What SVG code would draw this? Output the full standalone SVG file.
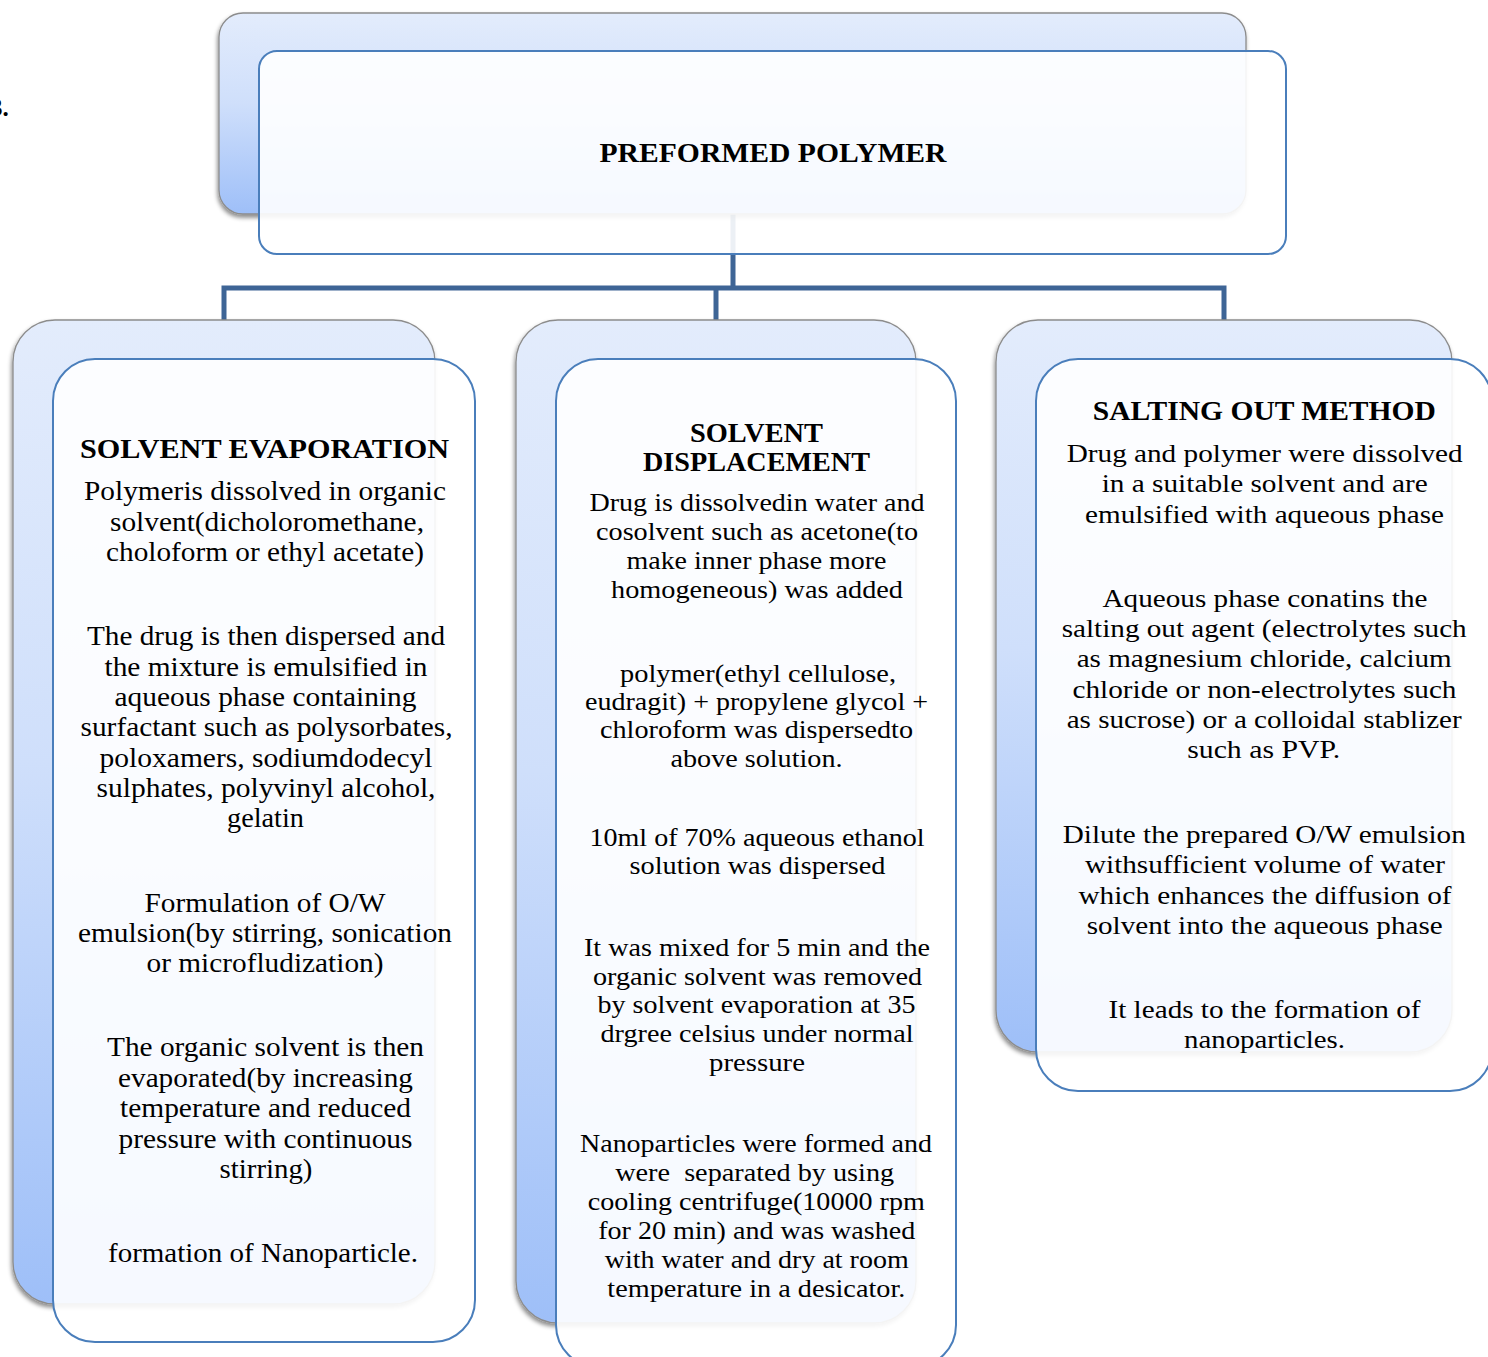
<svg xmlns="http://www.w3.org/2000/svg" width="1488" height="1357" viewBox="0 0 1488 1357">
<defs>
<linearGradient id="bg" x1="0" y1="0" x2="0" y2="1">
<stop offset="0" stop-color="#e3ecfc"/>
<stop offset="0.45" stop-color="#cfdffb"/>
<stop offset="1" stop-color="#9ebff8"/>
</linearGradient>
<filter id="sh" x="-5%" y="-5%" width="110%" height="110%">
<feDropShadow dx="-1" dy="3" stdDeviation="2" flood-color="#000" flood-opacity="0.45"/>
</filter>
<style>
.back{fill:url(#bg);stroke:#8c8c8c;stroke-width:1.3;filter:url(#sh)}
.front{fill:#ffffff;fill-opacity:0.9;stroke:#4a7ebb;stroke-width:2}
.conn{fill:none;stroke:#3e6596;stroke-width:5;stroke-linejoin:miter}
text{font-family:"Liberation Serif","Times New Roman",serif;fill:#000;text-anchor:middle}
.t{font-weight:bold;font-size:28px}
.b{font-size:27px}
.m{font-size:26px}
</style>
</defs>
<rect width="1488" height="1357" fill="#ffffff"/>
<text x="-10" y="116" style="font-weight:bold;font-size:25px;text-anchor:start">3.</text>
<g id="connectors">
<path class="conn" d="M733 150 V288"/>
<path class="conn" d="M224 320 V288 H1224 V320"/>
<path class="conn" d="M716 288 V320"/>
</g>
<g id="node-preformed">
<rect class="back" x="219" y="13" width="1027" height="201" rx="24"/>
<rect class="front" x="259" y="51" width="1027" height="203" rx="18"/>
<text class="t" x="773" y="162" textLength="347" lengthAdjust="spacingAndGlyphs">PREFORMED POLYMER</text>
</g>
<g id="node-solvent-evaporation">
<rect class="back" x="13" y="320" width="422" height="984" rx="42"/>
<rect class="front" x="53" y="359" width="422" height="983" rx="42"/>
<text class="t" x="264.5" y="458" textLength="369" lengthAdjust="spacingAndGlyphs">SOLVENT EVAPORATION</text>
<g class="b">
<text x="265" y="500" textLength="362" lengthAdjust="spacingAndGlyphs">Polymeris dissolved in organic</text>
<text x="267" y="531" textLength="314" lengthAdjust="spacingAndGlyphs">solvent(dicholoromethane,</text>
<text x="265" y="561" textLength="318" lengthAdjust="spacingAndGlyphs">choloform or ethyl acetate)</text>
<text x="266" y="645" textLength="358" lengthAdjust="spacingAndGlyphs">The drug is then dispersed and</text>
<text x="266" y="676" textLength="323" lengthAdjust="spacingAndGlyphs">the mixture is emulsified in</text>
<text x="265.5" y="706" textLength="302" lengthAdjust="spacingAndGlyphs">aqueous phase containing</text>
<text x="266.5" y="736" textLength="372" lengthAdjust="spacingAndGlyphs">surfactant such as polysorbates,</text>
<text x="266" y="767" textLength="333" lengthAdjust="spacingAndGlyphs">poloxamers, sodiumdodecyl</text>
<text x="266" y="797" textLength="339" lengthAdjust="spacingAndGlyphs">sulphates, polyvinyl alcohol,</text>
<text x="265.5" y="827" textLength="77" lengthAdjust="spacingAndGlyphs">gelatin</text>
<text x="265" y="912" textLength="241" lengthAdjust="spacingAndGlyphs">Formulation of O/W</text>
<text x="265" y="942" textLength="374" lengthAdjust="spacingAndGlyphs">emulsion(by stirring, sonication</text>
<text x="265" y="972" textLength="237" lengthAdjust="spacingAndGlyphs">or microfludization)</text>
<text x="265.5" y="1056" textLength="317" lengthAdjust="spacingAndGlyphs">The organic solvent is then</text>
<text x="265.5" y="1087" textLength="295" lengthAdjust="spacingAndGlyphs">evaporated(by increasing</text>
<text x="265.5" y="1117" textLength="291" lengthAdjust="spacingAndGlyphs">temperature and reduced</text>
<text x="265.5" y="1148" textLength="294" lengthAdjust="spacingAndGlyphs">pressure with continuous</text>
<text x="266" y="1178" textLength="93" lengthAdjust="spacingAndGlyphs">stirring)</text>
<text x="263" y="1262" textLength="310" lengthAdjust="spacingAndGlyphs">formation of Nanoparticle.</text>
</g>
</g>
<g id="node-solvent-displacement">
<rect class="back" x="516" y="320" width="400" height="1003" rx="42"/>
<rect class="front" x="556" y="359" width="400" height="1008" rx="42"/>
<text class="t" x="756.5" y="442" textLength="133" lengthAdjust="spacingAndGlyphs">SOLVENT</text>
<text class="t" x="756.5" y="471" textLength="227" lengthAdjust="spacingAndGlyphs">DISPLACEMENT</text>
<g class="m">
<text x="757" y="511" textLength="335" lengthAdjust="spacingAndGlyphs">Drug is dissolvedin water and</text>
<text x="757" y="540" textLength="322" lengthAdjust="spacingAndGlyphs">cosolvent such as acetone(to</text>
<text x="756.5" y="569" textLength="260" lengthAdjust="spacingAndGlyphs">make inner phase more</text>
<text x="757" y="598" textLength="292" lengthAdjust="spacingAndGlyphs">homogeneous) was added</text>
<text x="758" y="682" textLength="276" lengthAdjust="spacingAndGlyphs">polymer(ethyl cellulose,</text>
<text x="756.5" y="710" textLength="343" lengthAdjust="spacingAndGlyphs">eudragit) + propylene glycol +</text>
<text x="756.5" y="738" textLength="313" lengthAdjust="spacingAndGlyphs">chloroform was dispersedto</text>
<text x="756.5" y="767" textLength="172" lengthAdjust="spacingAndGlyphs">above solution.</text>
<text x="757" y="846" textLength="335" lengthAdjust="spacingAndGlyphs">10ml of 70% aqueous ethanol</text>
<text x="757.5" y="874" textLength="256" lengthAdjust="spacingAndGlyphs">solution was dispersed</text>
<text x="757" y="956" textLength="346" lengthAdjust="spacingAndGlyphs">It was mixed for 5 min and the</text>
<text x="757.5" y="985" textLength="329" lengthAdjust="spacingAndGlyphs">organic solvent was removed</text>
<text x="756.5" y="1013" textLength="318" lengthAdjust="spacingAndGlyphs">by solvent evaporation at 35</text>
<text x="757" y="1042" textLength="313" lengthAdjust="spacingAndGlyphs">drgree celsius under normal</text>
<text x="757" y="1071" textLength="96" lengthAdjust="spacingAndGlyphs">pressure</text>
<text x="756" y="1152" textLength="352" lengthAdjust="spacingAndGlyphs">Nanoparticles were formed and</text>
<text x="754.7" y="1181" textLength="279" lengthAdjust="spacingAndGlyphs" style="white-space:pre">were  separated by using</text>
<text x="756.3" y="1210" textLength="337" lengthAdjust="spacingAndGlyphs">cooling centrifuge(10000 rpm</text>
<text x="756.7" y="1239" textLength="317" lengthAdjust="spacingAndGlyphs">for 20 min) and was washed</text>
<text x="756.7" y="1268" textLength="304" lengthAdjust="spacingAndGlyphs">with water and dry at room</text>
<text x="756.3" y="1297" textLength="298" lengthAdjust="spacingAndGlyphs">temperature in a desicator.</text>
</g>
</g>
<g id="node-salting-out">
<rect class="back" x="996" y="320" width="456" height="732" rx="42"/>
<rect class="front" x="1036" y="359" width="456" height="732" rx="42"/>
<text class="t" x="1264.3" y="420" textLength="343" lengthAdjust="spacingAndGlyphs">SALTING OUT METHOD</text>
<g class="m">
<text x="1264.7" y="462" textLength="396" lengthAdjust="spacingAndGlyphs">Drug and polymer were dissolved</text>
<text x="1264.7" y="492" textLength="326" lengthAdjust="spacingAndGlyphs">in a suitable solvent and are</text>
<text x="1264.5" y="523" textLength="359" lengthAdjust="spacingAndGlyphs">emulsified with aqueous phase</text>
<text x="1265" y="607" textLength="325" lengthAdjust="spacingAndGlyphs">Aqueous phase conatins the</text>
<text x="1264.2" y="637" textLength="405" lengthAdjust="spacingAndGlyphs">salting out agent (electrolytes such</text>
<text x="1264.2" y="667" textLength="375" lengthAdjust="spacingAndGlyphs">as magnesium chloride, calcium</text>
<text x="1264.5" y="698" textLength="384" lengthAdjust="spacingAndGlyphs">chloride or non-electrolytes such</text>
<text x="1264.2" y="728" textLength="395" lengthAdjust="spacingAndGlyphs">as sucrose) or a colloidal stablizer</text>
<text x="1263.7" y="758" textLength="153" lengthAdjust="spacingAndGlyphs">such as PVP.</text>
<text x="1264.3" y="843" textLength="403" lengthAdjust="spacingAndGlyphs">Dilute the prepared O/W emulsion</text>
<text x="1265" y="873" textLength="360" lengthAdjust="spacingAndGlyphs">withsufficient volume of water</text>
<text x="1265" y="904" textLength="373" lengthAdjust="spacingAndGlyphs">which enhances the diffusion of</text>
<text x="1264.7" y="934" textLength="356" lengthAdjust="spacingAndGlyphs">solvent into the aqueous phase</text>
<text x="1264.5" y="1018" textLength="312" lengthAdjust="spacingAndGlyphs">It leads to the formation of</text>
<text x="1264.5" y="1048" textLength="161" lengthAdjust="spacingAndGlyphs">nanoparticles.</text>
</g>
</g>
</svg>
